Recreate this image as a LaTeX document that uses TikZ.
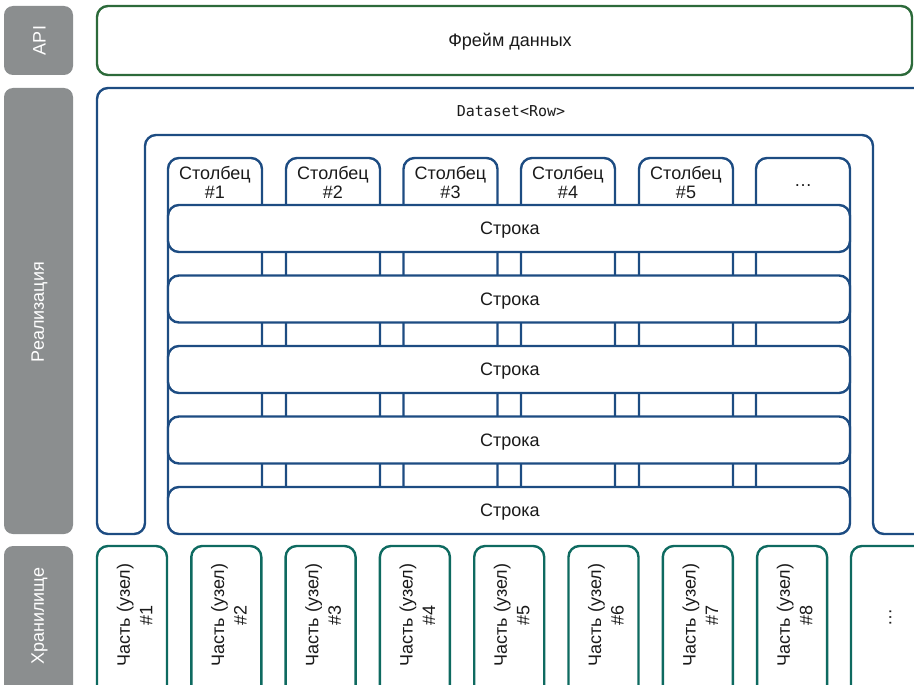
\documentclass[tikz,border=0pt]{standalone}
\usepackage{fontspec}
\setmainfont{Liberation Sans}
\setmonofont{DejaVu Sans Mono}
\definecolor{sidegray}{HTML}{8B8E8F}
\definecolor{apigreen}{HTML}{2C6A3A}
\definecolor{dsblue}{HTML}{1D4C82}
\definecolor{partteal}{HTML}{0E6A60}
\definecolor{txt}{HTML}{1A1A1A}
\tikzset{
  side/.style={fill=sidegray, draw=none, rounded corners=9pt},
  sidetext/.style={text=white, rotate=90, font=\fontsize{18}{20}\selectfont},
  apibox/.style={draw=apigreen, line width=2.4pt, rounded corners=11pt},
  bluebox/.style={draw=dsblue, line width=2.4pt, rounded corners=11pt},
  rowbox/.style={bluebox, fill=white},
  partbox/.style={draw=partteal, line width=2.4pt, rounded corners=11pt},
  lbl/.style={text=txt, align=center, font=\fontsize{18}{19}\selectfont},
  dotlbl/.style={text=txt, inner sep=0pt, font=\fontsize{18}{19}\selectfont},
  partlbl/.style={lbl, rotate=90, font=\fontsize{18}{22.5}\selectfont},
}
\begin{document}
\begin{tikzpicture}[x=1pt,y=-1pt]
\useasboundingbox (0,0) rectangle (914,685);
\clip (0,0) rectangle (914,685);
% sidebar
\fill[side] (4,6) rectangle (73,75);
\fill[side] (4,88) rectangle (73,534);
\fill[side] (4,546) rectangle (73,705);
\node[sidetext] (tapi) at (39.5,40.5) {API};
\node[sidetext] (timpl) at (39.5,312) {Реализация};
\node[sidetext] (tstore) at (39.5,616) {Хранилище};
% API
\draw[apibox] (97,6) rectangle (912,75);
\node[lbl] (frame) at (510,42) {Фрейм данных};
% Dataset frame
\draw[bluebox] (940,88) -- (97,88) -- (97,534) -- (145,534) -- (145,135) -- (873,135) -- (873,534) -- (940,534);
\node[lbl, font=\ttfamily\fontsize{15}{16}\selectfont] (ds) at (511,111.5) {Dataset<Row>};
% columns
\foreach \i/\xa/\xb in {1/168/262,2/286/380,3/403.5/497.5,4/521/615,5/639/733,6/756/850}{
  \draw[bluebox] (\xa,520) rectangle (\xb,158);
}
\foreach \i/\xa/\xb in {1/168/262,2/286/380,3/403.5/497.5,4/521/615,5/639/733}{
  \node[lbl] (col\i) at ({(\xa+\xb)/2},182) {Столбец\\\#\i};
}
\node[dotlbl] (col6) at (803,185.5) {\dots};
% rows
\foreach \i/\ya/\yb in {1/205/252,2/275.5/322.5,3/346/393,4/416.5/463.5,5/487/534}{
  \draw[rowbox] (168,\ya) rectangle (850,\yb);
  \node[lbl] (row\i) at (510,{(\ya+\yb)/2+1.8}) {Строка};
}
% storage parts
\foreach \i/\xa in {1/97,2/191.3,3/285.6,4/379.9,5/474.2,6/568.5,7/662.8,8/757.1}{
  \draw[partbox] (\xa,546) rectangle ({\xa+70},710);
  \node[partlbl] (part\i) at ({\xa+37.5},615) {Часть (узел)\\\#\i};
}
\draw[partbox] (851,546) rectangle (940,710);
\node[dotlbl, rotate=90] (part9) at (890.5,617) {\dots};
\end{tikzpicture}
\end{document}
